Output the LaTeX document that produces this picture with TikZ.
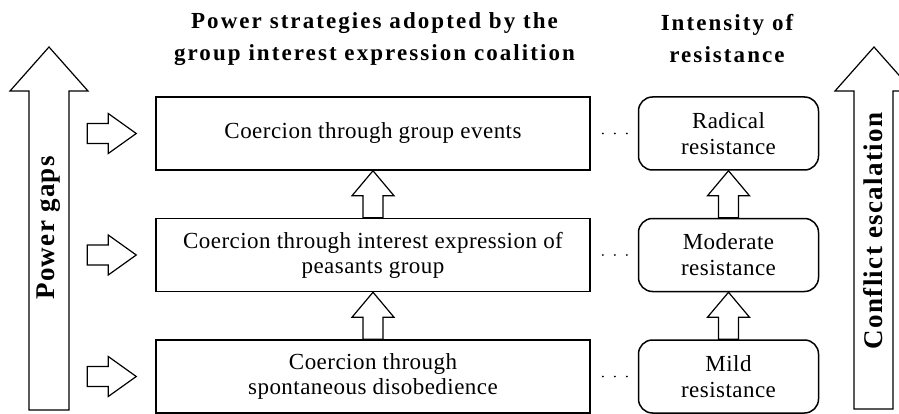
\documentclass[tikz,border=0pt]{standalone}
\usepackage{fontspec}
\setmainfont{Liberation Serif}
\usepackage{tikz}
\usetikzlibrary{positioning}

\tikzset{
  hollow/.style={draw, line width=1.2pt, fill=white, line join=miter},
  pics/uparrow/.style={code={
    \draw[hollow] (-10,0) -- (-10,-22) -- (-21,-22) -- (0,-47) -- (21,-22) -- (10,-22) -- (10,0) -- cycle;
  }},
  pics/rightarrow/.style={code={
    \draw[hollow] (-68,-10) -- (-47,-10) -- (-47,-20) -- (-19,0) -- (-47,20) -- (-47,10) -- (-68,10) -- cycle;
  }}
}

\begin{document}
\begin{tikzpicture}[x=1pt, y=-1pt, node distance=47pt,
    strategy/.style={draw, rectangle, line width=1.5pt, text centered, align=center, minimum height=73pt, minimum width=434pt, inner sep=0pt, font=\fontsize{23}{25}\selectfont\addfontfeature{LetterSpace=2}},
    resist/.style={draw, rectangle, rounded corners=14pt, line width=1.5pt, text centered, align=center, minimum height=73pt, minimum width=180pt, inner sep=0pt, font=\fontsize{23}{26}\selectfont\addfontfeature{LetterSpace=2}},
    heading/.style={align=center, font=\fontsize{23}{32}\selectfont\bfseries\addfontfeature{LetterSpace=9}},
    sidelabel/.style={rotate=90, font=\fontsize{27}{29}\selectfont\bfseries\addfontfeature{LetterSpace=5}},
    dotline/.style={line width=2pt, line cap=round, dash pattern=on 0pt off 12pt, shorten <=12pt, shorten >=11pt}]

    \useasboundingbox (0,0) rectangle (899,414);

    % Headings
    \node (strategyTitle) [heading] at (374.5,39) {Power strategies adopted by the\\group interest expression coalition};
    \node (resistTitle) [heading] at (727,39) {Intensity of\\resistance};

    % Strategy boxes, stacked downwards
    \node (groupEvents) [strategy] at (373,133.5) {Coercion through group events};
    \node (peasantsGroup) [strategy, below=of groupEvents] {Coercion through interest expression of\\peasants group};
    \node (disobedience) [strategy, below=of peasantsGroup] {Coercion through\\spontaneous disobedience};

    % Resistance boxes to the right
    \node (radical) [resist, right=of groupEvents] {Radical\\resistance};
    \node (moderate) [resist, right=of peasantsGroup] {Moderate\\resistance};
    \node (mild) [resist, right=of disobedience] {Mild\\resistance};

    % Dotted links between strategy and resistance
    \draw[dotline] (groupEvents) -- (radical);
    \draw[dotline] (peasantsGroup) -- (moderate);
    \draw[dotline] (disobedience) -- (mild);

    % Hollow arrows between the boxes
    \pic at (peasantsGroup.north) {uparrow};
    \pic at (disobedience.north) {uparrow};
    \pic at (moderate.north) {uparrow};
    \pic at (mild.north) {uparrow};

    % Arrows pointing into the strategy boxes
    \pic at (groupEvents.west) {rightarrow};
    \pic at (peasantsGroup.west) {rightarrow};
    \pic at (disobedience.west) {rightarrow};

    % Big side arrows
    \draw[hollow] (29,410) -- (29,91) -- (10,91) -- (49,47) -- (88,91) -- (69,91) -- (69,410) -- cycle;
    \draw[hollow] (854,409) -- (854,91) -- (835,91) -- (874,47) -- (913,91) -- (893,91) -- (893,409) -- cycle;
    \node (powerGaps) [sidelabel] at (49,228) {Power gaps};
    \node (escalation) [sidelabel] at (873.5,231) {Conflict escalation};

\end{tikzpicture}
\end{document}
